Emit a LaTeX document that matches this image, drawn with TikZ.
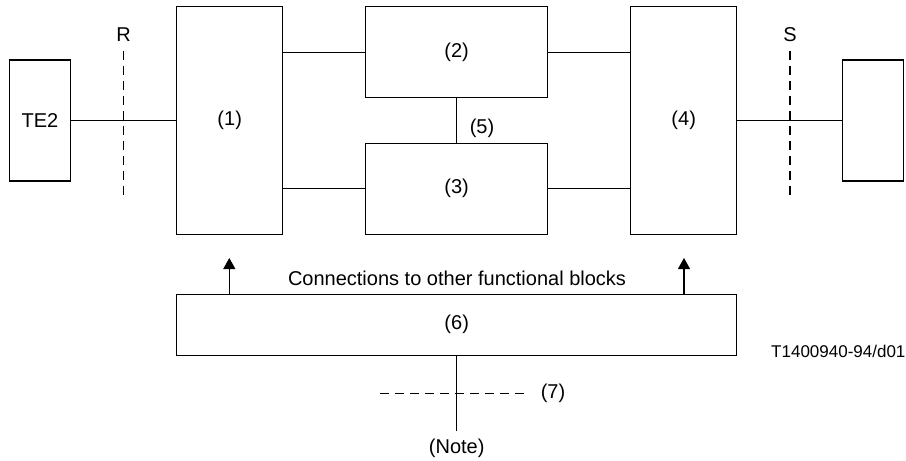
\documentclass[tikz,border=0pt]{standalone}
\usepackage{fontspec}
\setmainfont{Liberation Sans}
\usetikzlibrary{arrows.meta}
\begin{document}
\begin{tikzpicture}[x=1pt, y=-1pt, line width=1.1pt,
    font=\fontsize{20}{24}\selectfont,
    blk/.style={draw, inner sep=0pt},
    refline/.style={dashed, dash pattern=on 9pt off 6pt}]
        \useasboundingbox (0,0) rectangle (906,461);
        % Functional blocks
        \node[blk, minimum width=61.4pt, minimum height=121pt] (te2) at (40,120.5) {TE2};
        \node[blk, minimum width=106pt, minimum height=227.6pt] (f1) at (229.7,120.5) {(1)};
        \node[blk, minimum width=181.8pt, minimum height=90.8pt] (f2) at (456.6,52.1) {(2)};
        \node[blk, minimum width=181.8pt, minimum height=91pt] (f3) at (456.6,188.8) {(3)};
        \node[blk, minimum width=106pt, minimum height=227.6pt] (f4) at (683.7,120.5) {(4)};
        \node[blk, minimum width=60.6pt, minimum height=121pt] (nt) at (873,120.5) {};
        \node[blk, minimum width=560pt, minimum height=61pt] (f6) at (456.7,324.8) {(6)};
        % Links
        \draw (te2.east) -- (f1.west);
        \draw (f2.west -| f1.east) -- (f2.west);
        \draw (f3.west -| f1.east) -- (f3.west);
        \draw (f2.east) -- (f2.east -| f4.west);
        \draw (f3.east) -- (f3.east -| f4.west);
        \draw (f4.east) -- (nt.west);
        \draw (f2.south) -- (f3.north);
        \node (n5) at (482,128) {(5)};
        % Reference points R and S
        \foreach \n/\lbl/\x in {r/R/123.7, s/S/790} {
            \coordinate (\n1) at (\x,50.7);
            \coordinate (\n2) at (\x,197);
            \draw[refline] (\n1) -- (\n2);
            \node (\n lbl) at (\x,35) {\lbl};
        }
        % Connections upward from (6)
        \foreach \a/\x in {a1/229.3, a2/684} {
            \coordinate (\a) at (\x,258);
            \draw[-{Triangle[length=11pt,width=12pt]}] (f6.north -| \a) -- (\a);
        }
        \node (conn) at (457,278) {Connections to other functional blocks};
        % Note interface
        \coordinate (nend) at (456.7,431);
        \draw (f6.south) -- (nend);
        \coordinate (d1) at (380,393.3);
        \coordinate (d2) at (527,393.3);
        \draw[refline] (d1) -- (d2);
        \node (n7) at (553,393) {(7)};
        \node (note) at (456.7,448) {(Note)};
        \node[anchor=east, inner sep=0pt, font=\fontsize{17}{20}\selectfont] (tag) at (906,351) {T1400940-94/d01};
    \end{tikzpicture}
\end{document}
